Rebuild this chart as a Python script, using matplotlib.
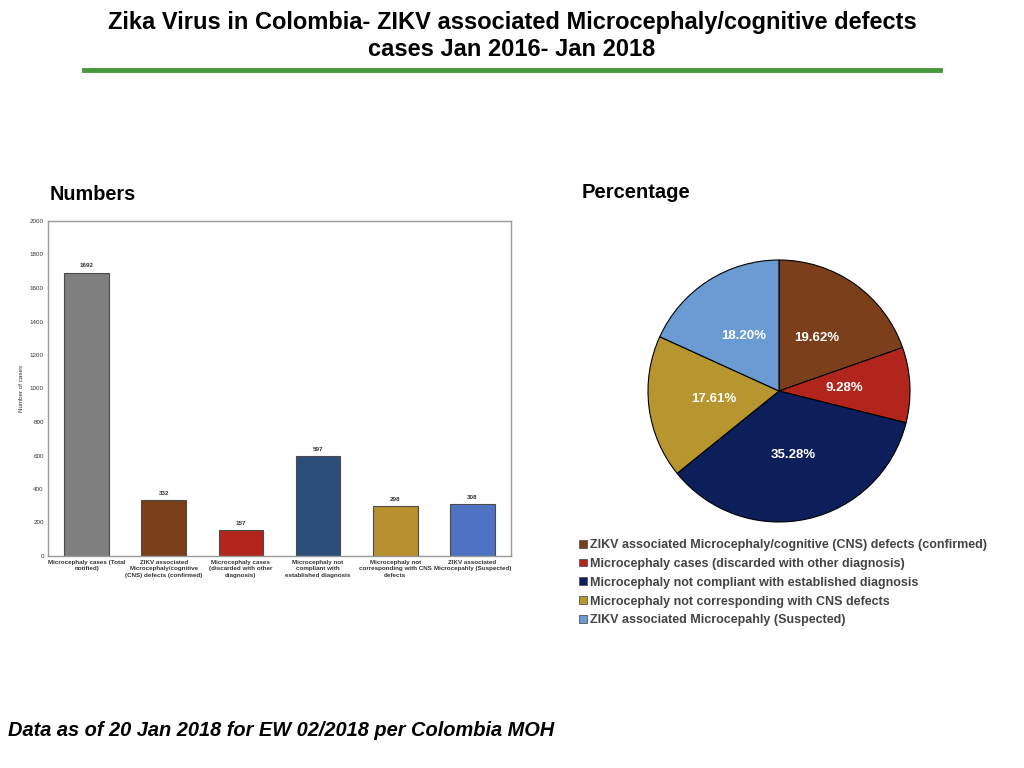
import matplotlib
matplotlib.use("Agg")
import matplotlib.pyplot as plt
from matplotlib.lines import Line2D

categories = ["Microcephaly cases (Total\nnotified)",
              "ZIKV associated\nMicrocephaly/cognitive\n(CNS) defects (confirmed)",
              "Microcephaly cases\n(discarded with other\ndiagnosis)",
              "Microcephaly not\ncompliant with\nestablished diagnosis",
              "Microcephaly not\ncorresponding with CNS\ndefects",
              "ZIKV associated\nMicrocepahly (Suspected)"]
values = [1692, 332, 157, 597, 298, 308]
bar_colors = ["#7f7f7f", "#7b3f1c", "#b2251c", "#2b4e78", "#b8912f", "#4f72c2"]

pie_labels = ["ZIKV associated Microcephaly/cognitive (CNS) defects (confirmed)",
              "Microcephaly cases (discarded with other diagnosis)",
              "Microcephaly not compliant with established diagnosis",
              "Microcephaly not corresponding with CNS defects",
              "ZIKV associated Microcepahly (Suspected)"]
pie_values = [19.62, 9.28, 35.28, 17.61, 18.20]
pie_colors = ["#7b3f1c", "#b2251c", "#0c1f5a", "#b8962f", "#6a9bd3"]

W, H = 1024, 768
fig = plt.figure(figsize=(W/100, H/100), dpi=100)
fig.patch.set_facecolor("white")

title_font = ["Liberation Sans Narrow", "Liberation Sans", "DejaVu Sans"]
fig.text(0.5, 1 - 36/H, "Zika Virus in Colombia- ZIKV associated Microcephaly/cognitive defects\ncases Jan 2016- Jan 2018",
         ha="center", va="center", fontsize=17, fontweight="bold", family=title_font,
         linespacing=1.25, color="black")
fig.add_artist(Line2D([84/W, 940/W], [1 - 70/H, 1 - 70/H], color="#46993a", lw=3.5,
                      transform=fig.transFigure))

sans = ["Liberation Sans", "DejaVu Sans"]
fig.text(50/W, 1 - 195/H, "Numbers", ha="left", va="center", fontsize=14.3, fontweight="bold", family=sans)
fig.text(582/W, 1 - 193/H, "Percentage", ha="left", va="center", fontsize=14.5, fontweight="bold", family=sans)
fig.text(8/W, 1 - 731/H, "Data as of 20 Jan 2018 for EW 02/2018 per Colombia MOH", ha="left", va="center",
         fontsize=14.4, fontweight="bold", fontstyle="italic", family=sans)

# Bar chart
ax = fig.add_axes([48/W, 1 - 556/H, 463/W, 335/H])
x = list(range(len(values)))
bars = ax.bar(x, values, width=0.58, color=bar_colors, edgecolor="#4a4a4a", linewidth=0.8)
for xi, v in zip(x, values):
    ax.text(xi, v + 25, str(v), ha="center", va="bottom", fontsize=4.5, fontweight="bold",
            color="#333333", family=sans)
ax.set_xlim(-0.5, len(values) - 0.5)
ax.set_ylim(0, 2000)
ax.set_yticks(range(0, 2001, 200))
ax.set_yticklabels([str(t) for t in range(0, 2001, 200)], fontsize=4.5, color="#333333", family=sans)
ax.set_xticks(x)
ax.set_xticklabels(categories, fontsize=4.5, fontweight="bold", color="#333333", family=sans,
                   linespacing=1.3)
ax.tick_params(axis="both", length=0, pad=3)
ax.set_ylabel("Number of cases", fontsize=4.5, color="#333333", family=sans, labelpad=4)
for s in ax.spines.values():
    s.set_color("#9a9a9a")
    s.set_linewidth(1.0)

# Pie chart
R = 131
cx, cy = 779, 391
pax = fig.add_axes([(cx - R)/W, 1 - (cy + R)/H, 2*R/W, 2*R/H])
wedges, texts, autotexts = pax.pie(pie_values, colors=pie_colors, startangle=90, counterclock=False,
                                   autopct=lambda p: f"{p:.2f}%", pctdistance=0.5,
                                   wedgeprops=dict(edgecolor="black", linewidth=0.8), radius=1.0)
for i, t in enumerate(autotexts):
    t.set_text(f"{pie_values[i]:.2f}%")
    t.set_color("white")
    t.set_fontsize(9.5)
    t.set_fontweight("bold")
    t.set_family(sans)
pax.set_xlim(-1, 1)
pax.set_ylim(-1, 1)
pax.set_aspect("equal")
pax.axis("off")

handles = [plt.Rectangle((0, 0), 1, 1, facecolor=c, edgecolor="#555555", linewidth=0.6) for c in pie_colors]
leg = fig.legend(handles, pie_labels, loc="upper left", bbox_to_anchor=(574/W, 1 - 534/H),
                 frameon=False, handlelength=0.6, handleheight=0.6,
                 handletextpad=0.3, labelspacing=0.55, borderaxespad=0,
                 prop=dict(family=sans, weight="bold", size=9))
for t in leg.get_texts():
    t.set_color("#444444")

fig.savefig("out.png", dpi=100, facecolor="white")
